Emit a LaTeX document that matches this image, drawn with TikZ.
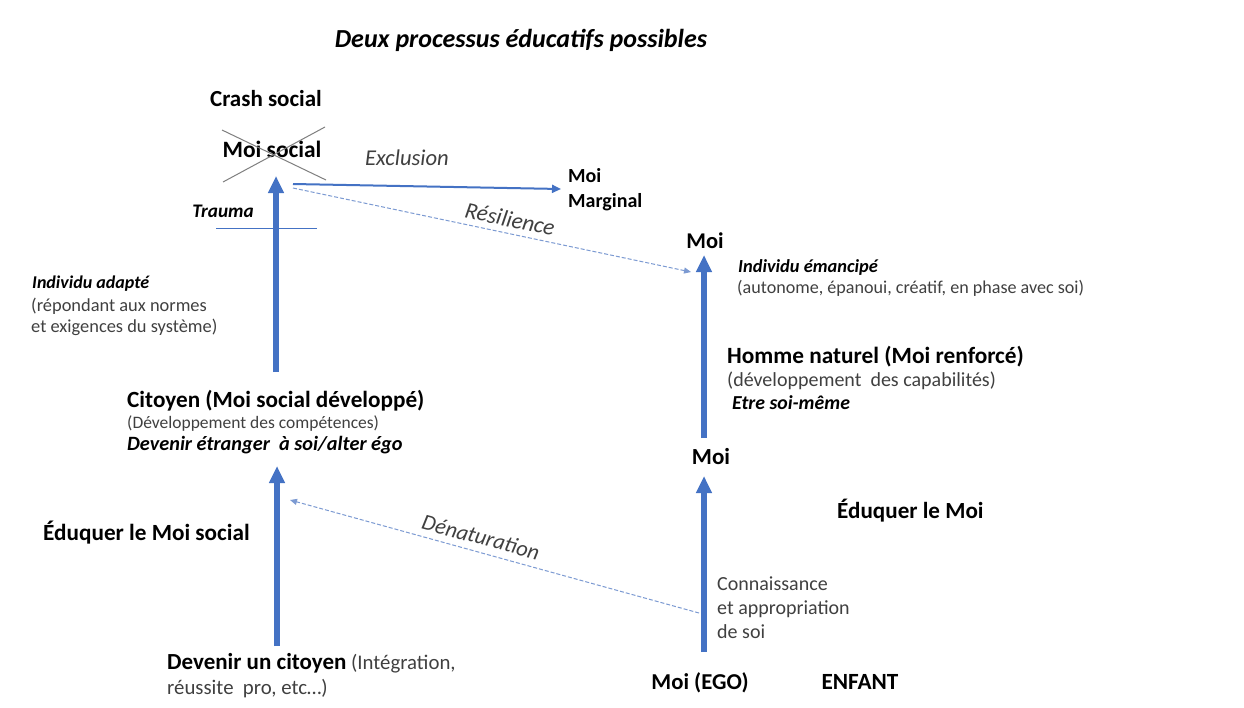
\documentclass[tikz,border=0pt]{standalone}
\usepackage{fontspec}
\setmainfont{Carlito}
\usetikzlibrary{arrows.meta}
\definecolor{ablue}{HTML}{4472C4}
\definecolor{dblue}{HTML}{7C9AD2}
\definecolor{txt}{HTML}{404040}
\definecolor{crossgrey}{HTML}{7F7F7F}
\newcommand{\fs}[1]{\fontsize{#1}{#1}\selectfont}
\begin{document}
\begin{tikzpicture}[x=1pt,y=-1pt,
  every node/.style={inner sep=0pt, text=txt},
  bf/.style={text=black},
  thick arrow/.style={draw=ablue, line width=5.5pt, -{Triangle[width=15pt,length=17pt]}},
  thin arrow/.style={draw=ablue, line width=2pt, -{Triangle[width=8pt,length=9pt]}},
  dash arrow/.style={draw=dblue, line width=1pt, dash pattern=on 4pt off 2pt, -{Triangle[width=6pt,length=7pt]}},
  crossline/.style={draw=crossgrey, line width=1pt},
  bar/.style={draw=ablue, line width=1pt}
]
\useasboundingbox[fill=white] (0,0) rectangle (1244,707);

% title
\node[bf, font=\fs{26}\bfseries\itshape, anchor=base] (title) at (521,47) {Deux processus éducatifs possibles};

% left column
\node[bf, font=\fs{23}\bfseries, anchor=base] (crash) at (266,106) {Crash social};
\node[bf, font=\fs{23.4}\bfseries, anchor=base] (moisocial) at (272,157) {Moi social};
\coordinate (c1) at (222,130); \coordinate (c2) at (326,180);
\coordinate (c3) at (223,182); \coordinate (c4) at (325,127);
\draw[crossline] (c1) -- (c2);
\draw[crossline] (c3) -- (c4);

\node[bf, font=\fs{19.2}\bfseries\itshape, anchor=base] (trauma) at (223,217) {Trauma};
\coordinate (b1) at (216,228); \coordinate (b2) at (317,228);
\draw[bar] (b1) -- (b2);

\node[bf, font=\fs{18}\bfseries\itshape, anchor=base west] (adapte) at (32,288) {Individu adapté};
\node[font=\fontsize{18.4}{21}\selectfont, anchor=base west, align=left] (normes) at (31,332) {(répondant aux normes\\et exigences du système)};

\node[bf, font=\fs{23.2}\bfseries, anchor=base west] (citoyen) at (127,407) {Citoyen (Moi social développé)};
\node[font=\fs{17.5}, anchor=base west] (compet) at (127,428) {(Développement des compétences)};
\node[bf, font=\fs{20.3}\bfseries\itshape, anchor=base west] (etranger) at (127,450) {Devenir étranger~ à soi/alter égo};

\node[bf, font=\fs{23.2}\bfseries, anchor=base west] (eduqsoc) at (43,540) {Éduquer le Moi social};

\node[anchor=base west, font=\fs{20.8}] (devenir) at (167,669) {{\fs{23}\bfseries\color{black}Devenir un citoyen} (Intégration,};
\node[anchor=base west, font=\fs{20.8}] (reussite) at (167,694) {réussite~ pro, etc…)};

\coordinate (lb) at (277,646); \coordinate (lbt) at (277,466);
\coordinate (lt) at (276,372); \coordinate (ltt) at (276,176);
\draw[thick arrow] (lb) -- (lbt);
\draw[thick arrow] (lt) -- (ltt);

% exclusion / resilience
\coordinate (ex0) at (293,184);
\node[bf, font=\fontsize{20}{25}\selectfont\bfseries, anchor=base west, align=left] (marginal) at (568,207) {Moi\\Marginal};
\coordinate (ex1) at (561,189);
\draw[thin arrow] (ex0) -- (ex1);
\node[font=\fs{22.6}\itshape, anchor=base] (exclusion) at (407,165) {Exclusion};

\coordinate (rs0) at (293,188);
\coordinate (rs1) at (691,272);
\draw[dash arrow] (rs0) -- (rs1);
\node[font=\fs{23}\itshape, rotate=-12] (resilience) at (510,219) {Résilience};

% right column
\node[bf, font=\fs{22.5}\bfseries, anchor=base] (moitop) at (705,248) {Moi};
\node[bf, font=\fs{18.4}\bfseries\itshape, anchor=base west] (emancipe) at (738,272) {Individu émancipé};
\node[font=\fs{18.1}, anchor=base west] (autonome) at (737,293) {(autonome, épanoui, créatif, en phase avec soi)};

\node[bf, font=\fs{23.3}\bfseries, anchor=base west] (homme) at (727,363) {Homme naturel (Moi renforcé)};
\node[font=\fs{20}, anchor=base west] (capab) at (727,386) {(développement~ des capabilités)};
\node[bf, font=\fs{19.8}\bfseries\itshape, anchor=base west] (etre) at (732,409) {Etre soi-même};

\node[bf, font=\fs{23}\bfseries, anchor=base] (moimid) at (711,464) {Moi};
\node[bf, font=\fs{23.1}\bfseries, anchor=base west] (eduqmoi) at (837,518) {Éduquer le Moi};

\node[font=\fontsize{20}{24}\selectfont, anchor=base west, align=left] (connais) at (717,638) {Connaissance\\et appropriation\\de soi};

\node[bf, font=\fs{22.7}\bfseries, anchor=base] (ego) at (700,689) {Moi (EGO)};
\node[bf, font=\fs{23.2}\bfseries, anchor=base] (enfant) at (860,689) {ENFANT};

\coordinate (rb) at (704,652); \coordinate (rbt) at (704,476);
\coordinate (rt) at (704,438); \coordinate (rtt) at (704,255);
\draw[thick arrow] (rb) -- (rbt);
\draw[thick arrow] (rt) -- (rtt);

% denaturation
\coordinate (dn0) at (699,613);
\coordinate (dn1) at (290,500);
\draw[dash arrow] (dn0) -- (dn1);
\node[font=\fs{22.3}\itshape, rotate=-15] (denat) at (481,537) {Dénaturation};
\end{tikzpicture}
\end{document}
